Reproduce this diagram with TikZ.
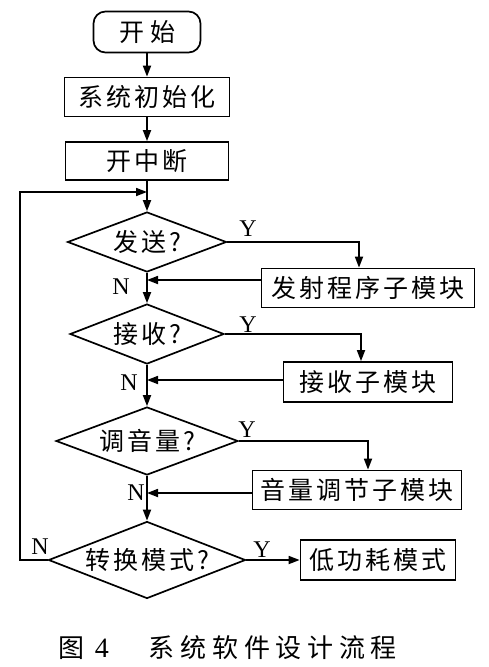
\documentclass[tikz,border=0pt]{standalone}
\usepackage{fontspec}
\setmainfont{Liberation Serif}
\newfontfamily\cjk[LetterSpace=12]{Noto Sans CJK SC}
\newfontfamily\cjkcap[LetterSpace=22]{Noto Sans CJK SC}
\usetikzlibrary{shapes.geometric,arrows.meta}
\begin{document}
\begin{tikzpicture}[x=1pt,y=-1pt, line width=1.7pt,
  >={Triangle[length=11pt,width=8pt]},
  cjktext/.style={font=\cjk\fontsize{25}{27}\selectfont},
  stepbox/.style={draw, rectangle, inner sep=0pt, minimum width=#1, minimum height=39pt, cjktext},
  decision/.style={draw, diamond, inner sep=0pt, cjktext},
  yn/.style={font=\fontsize{24}{25}\selectfont, inner sep=0pt}]
\useasboundingbox (0,0) rectangle (488,667);

\node[draw, rounded corners=12pt, minimum width=107pt, minimum height=41pt, inner sep=0pt, cjktext] (start) at (147,32) {开\hspace{6pt}始};
\node[stepbox=165pt] (init) at (147,97) {系统初始化};
\node[stepbox=163pt, minimum height=38pt] (kzd) at (147,161) {开中断};
\node[decision, minimum width=159pt, minimum height=60pt, aspect=2.65] (d1) at (147,242) {发送?};
\node[stepbox=213pt] (b1) at (368,288) {发射程序子模块};
\node[decision, minimum width=154pt, minimum height=60pt, aspect=2.56] (d2) at (147,334) {接收?};
\node[stepbox=169pt, minimum height=40pt] (b2) at (368,382) {接收子模块};
\node[decision, minimum width=182pt, minimum height=68pt, aspect=2.68] (d3) at (147,441) {调音量?};
\node[stepbox=209pt] (b3) at (357,490) {音量调节子模块};
\node[decision, minimum width=197pt, minimum height=77pt, aspect=2.56] (d4) at (147,560) {转换模式?};
\node[stepbox=155pt, minimum height=40pt] (b4) at (378,560) {低功耗模式};

\coordinate (m1) at (147,280);
\coordinate (m2) at (147,380);
\coordinate (m3) at (147,493);
\coordinate (lp) at (147,192);
\coordinate (lc) at (20,192);

\draw[->] (start) -- (init);
\draw[->] (init) -- (kzd);
\draw[->] (kzd) -- (d1);

\draw[->] (d1.east) -| ([xshift=-9pt]b1.north);
\draw[->] (b1.west |- m1) -- (m1);
\draw[->] (d1.south) -- (d2.north);

\draw[->] (d2.east) -| ([xshift=-7pt]b2.north);
\draw[->] (b2.west |- m2) -- (m2);
\draw[->] (d2.south) -- (d3.north);

\draw[->] (d3.east) -| ([xshift=11pt]b3.north);
\draw[->] (b3.west |- m3) -- (m3);
\draw[->] (d3.south) -- (d4.north);

\draw[->] (d4.east) -- (b4.west);
\draw[->] (d4.west) -| (lc) -- (lp);

\node[yn] (y1) at (248,229) {Y};
\node[yn] (y2) at (248,325) {Y};
\node[yn] (y3) at (247,430) {Y};
\node[yn] (y4) at (262,550) {Y};
\node[yn] (n1) at (121,287) {N};
\node[yn] (n2) at (129,383) {N};
\node[yn] (n3) at (136,493) {N};
\node[yn] (n4) at (40,547) {N};

\node[inner sep=0pt] (cap) at (228,648) {\cjkcap\fontsize{26}{28}\selectfont 图\hspace{10pt}{\rmfamily\fontsize{28}{28}\selectfont 4}\hspace{40pt}系统软件设计流程};
\end{tikzpicture}
\end{document}
